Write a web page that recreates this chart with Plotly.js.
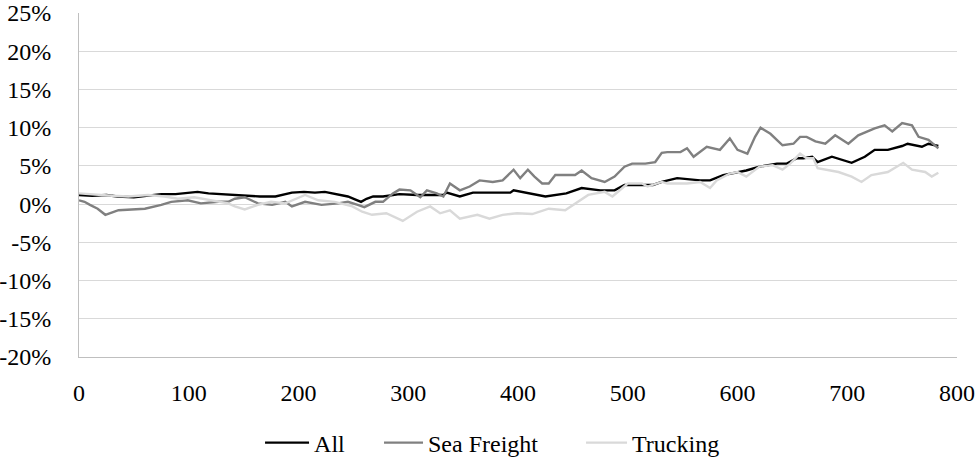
<!DOCTYPE html>
<html>
<head>
<meta charset="utf-8">
<script src="https://cdn.plot.ly/plotly-3.0.1.min.js"></script>
<style>
  html, body { margin: 0; padding: 0; background: #ffffff; }
  #chart { width: 979px; height: 459px; }
</style>
</head>
<body>
<div id="chart"></div>
<script>
// Cumulative return (%) by trading day
const allDays = [0,12,25,35,50,62,75,88,100,108,118,128,136,150,165,179,194,205,215,224,235,245,252,257,262,268,277,292,308,320,332,335,347,359,375,393,396,410,425,444,458,475,488,497,514,523,531,545,566,575,587,600,608,620,636,645,654,660,668,673,686,704,716,725,737,750,755,768,774,783];
const allValues = [1.2,1.1,1.2,1.0,0.9,1.1,1.3,1.3,1.5,1.6,1.4,1.3,1.2,1.1,1.0,1.0,1.5,1.6,1.5,1.6,1.3,1.0,0.6,0.3,0.7,1.0,1.0,1.3,1.2,1.2,1.2,1.5,1.0,1.5,1.5,1.5,1.8,1.4,1.0,1.4,2.1,1.8,1.8,2.5,2.5,2.5,2.9,3.4,3.1,3.1,3.8,4.2,4.4,4.9,5.3,5.3,6.0,6.0,6.2,5.5,6.2,5.4,6.2,7.1,7.1,7.6,7.9,7.5,7.9,7.6];

const seaDays = [0,5,10,17,24,30,36,48,60,75,84,99,111,127,136,142,151,163,176,188,194,206,221,236,245,254,260,270,277,286,292,302,311,317,326,332,338,347,356,365,377,386,396,402,409,415,422,428,434,452,458,467,479,488,497,504,516,525,531,536,548,554,560,572,584,593,600,609,616,621,630,641,651,657,663,671,680,689,701,710,725,734,741,750,759,765,774,783];
const seaValues = [0.5,0.3,-0.1,-0.6,-1.4,-1.1,-0.8,-0.7,-0.6,-0.1,0.3,0.5,0.1,0.3,0.3,0.7,0.9,0.1,-0.1,0.3,-0.3,0.3,-0.1,0.1,0.3,-0.1,-0.4,0.3,0.3,1.4,1.9,1.8,0.9,1.8,1.4,1.0,2.7,1.8,2.3,3.1,2.9,3.1,4.5,3.4,4.5,3.6,2.7,2.7,3.8,3.8,4.4,3.4,2.9,3.6,4.9,5.3,5.3,5.5,6.7,6.8,6.8,7.3,6.2,7.5,7.1,8.6,7.1,6.6,8.8,10.0,9.2,7.7,7.9,8.8,8.8,8.2,7.9,9.0,7.9,9.0,9.9,10.3,9.5,10.6,10.3,8.8,8.4,7.3];

const truckDays = [0,8,17,30,45,63,78,90,105,120,136,142,151,163,175,188,206,218,233,249,258,267,280,295,308,320,329,338,347,363,374,386,399,413,428,443,455,464,479,486,500,513,518,531,536,554,566,575,581,593,600,608,620,632,641,648,657,663,669,673,692,704,713,722,737,743,751,759,771,777,783];
const truckValues = [1.4,1.3,1.2,1.1,1.0,1.2,1.0,0.7,0.9,0.5,0.1,-0.3,-0.7,-0.1,0.3,0.1,1.2,0.5,0.3,-0.3,-1.0,-1.4,-1.2,-2.2,-1.0,-0.3,-1.2,-0.8,-1.9,-1.4,-1.9,-1.4,-1.2,-1.3,-0.6,-0.8,0.3,1.2,1.6,1.0,2.7,2.7,2.3,2.9,2.7,2.7,2.9,2.1,3.1,4.0,4.2,3.6,4.9,5.1,4.5,5.3,6.6,6.0,6.0,4.7,4.2,3.6,2.9,3.8,4.2,4.7,5.4,4.5,4.2,3.6,4.1];

const seriesNames = ['All', 'Sea Freight', 'Trucking'];
const yTickVals = [-20,-15,-10,-5,0,5,10,15,20,25];
const yTickText = ['-20%','-15%','-10%','-5%','0%','5%','10%','15%','20%','25%'];
const xTickVals = [0,100,200,300,400,500,600,700,800];

const FONT = { family: 'Liberation Serif', size: 24, color: '#000000' };

// one legend per series so each key sits at its own spot along the bottom
const mk = (x, y, name, color, legendId) => ({
  type: 'scatter', mode: 'lines', x: x, y: y, name: name,
  line: { color: color, width: 2.4 },
  legend: legendId
});

const traces = [
  mk(allDays, allValues, seriesNames[0], '#000000', 'legend'),
  mk(seaDays, seaValues, seriesNames[1], '#808080', 'legend2'),
  mk(truckDays, truckValues, seriesNames[2], '#d9d9d9', 'legend3')
];

const legendAt = (x, itemwidth) => ({
  orientation: 'h', x: x, xanchor: 'left', y: -0.25, yanchor: 'middle',
  font: FONT, itemwidth: itemwidth, borderwidth: 0, bgcolor: 'rgba(0,0,0,0)'
});

const layout = {
  width: 979, height: 459,
  margin: { l: 79, r: 22, t: 13, b: 102, autoexpand: false },
  paper_bgcolor: '#ffffff', plot_bgcolor: '#ffffff',
  font: FONT,
  showlegend: true,
  legend: legendAt(0.2062, 44),
  legend2: legendAt(0.3417, 39),
  legend3: legendAt(0.5718, 41),
  xaxis: {
    range: [0, 800], tickvals: xTickVals, ticks: '',
    showgrid: false, zeroline: false,
    showline: true, linecolor: '#bfbfbf', linewidth: 1,
    ticklabelstandoff: 14,
    tickfont: FONT
  },
  yaxis: {
    range: [-20, 25], tickvals: yTickVals, ticktext: yTickText, ticks: '',
    showgrid: true, gridcolor: '#d9d9d9', gridwidth: 1, zeroline: false,
    showline: true, linecolor: '#bfbfbf', linewidth: 1,
    ticklabelstandoff: 22,
    tickfont: FONT
  }
};

Plotly.newPlot('chart', traces, layout, { displayModeBar: false, staticPlot: true });
</script>
</body>
</html>
